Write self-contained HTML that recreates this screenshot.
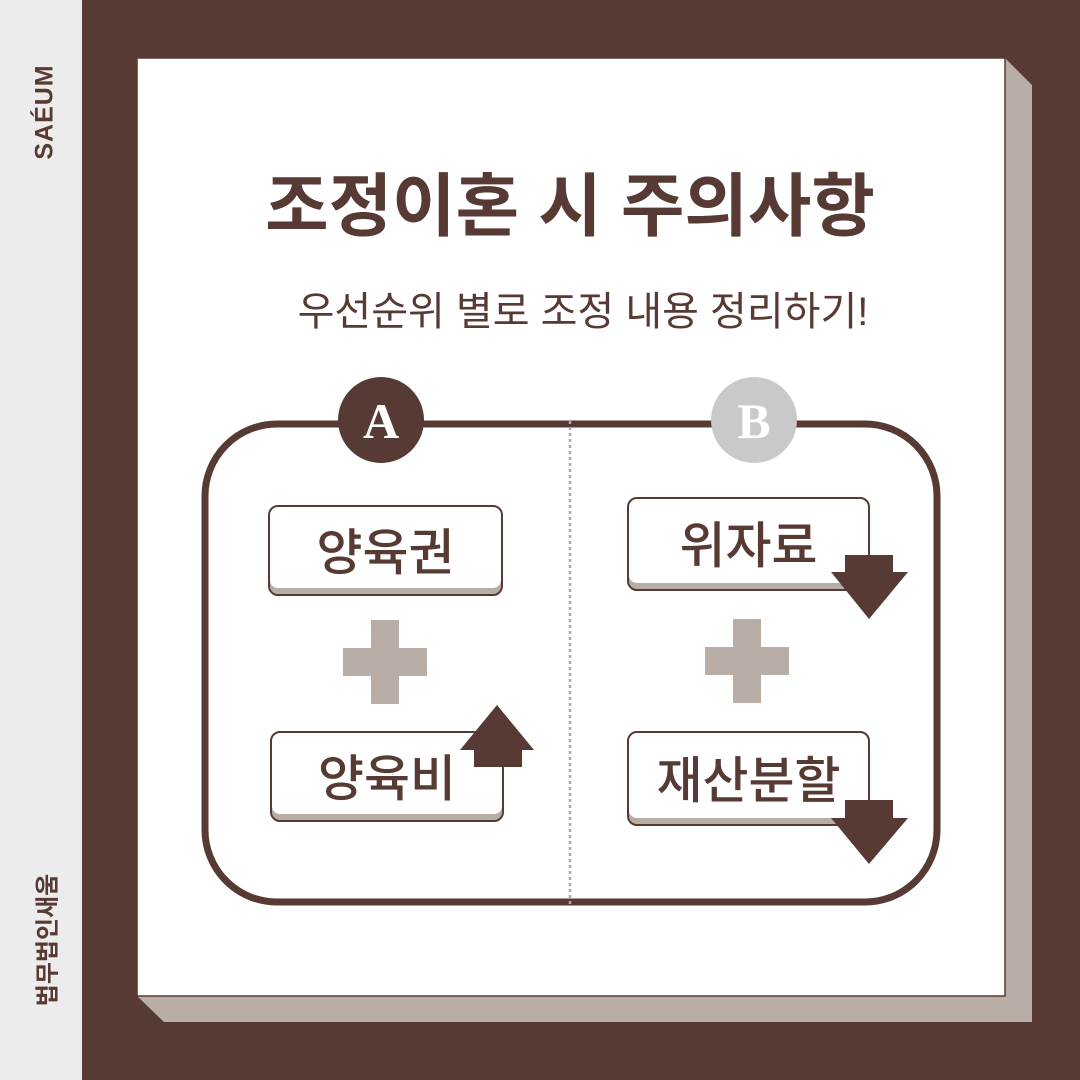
<!DOCTYPE html>
<html><head><meta charset="utf-8"><style>
body{margin:0;width:1080px;height:1080px;overflow:hidden;background:#573a33;font-family:"Liberation Sans","Noto Sans CJK KR",sans-serif;}
.abs{position:absolute}
.box{position:absolute;background:#fff;border:2px solid #573a33;border-radius:10px;box-shadow:inset 0 -6px 0 #b8aea6;color:#573a33;font-size:50px;font-weight:500;display:flex;align-items:center;justify-content:center;box-sizing:border-box;padding-bottom:4px}
</style></head><body>
<div class="abs" style="left:0;top:0;width:82px;height:1080px;background:#ececec"></div>
<div class="abs" style="left:45px;top:112px;transform:translate(-50%,-50%) rotate(-90deg);font-weight:bold;font-size:25px;color:#573a33;letter-spacing:1px">SAÉUM</div>
<div class="abs" style="left:45px;top:940px;transform:translate(-50%,-50%) rotate(-90deg);font-weight:bold;font-size:24px;color:#573a33;white-space:nowrap">법무법인새움</div>
<svg class="abs" style="left:0;top:0" width="1080" height="1080">
<polygon points="1005,58 1032,85 1032,1022 164,1022 137,996 1005,996" fill="#b8aea6"/>
<rect x="137" y="58" width="868" height="938" fill="#fff" stroke="#573a33" stroke-width="1.5"/>
<rect x="205" y="424" width="732" height="478" rx="72" fill="none" stroke="#573a33" stroke-width="7"/>
<line x1="570" y1="421" x2="570" y2="905" stroke="#aaa" stroke-width="2.5" stroke-dasharray="3,3"/>
<circle cx="381" cy="420" r="43" fill="#573a33"/>
<circle cx="754" cy="420" r="43" fill="#c9c9c9"/>
<text x="381" y="438" text-anchor="middle" font-family="Liberation Serif" font-weight="bold" font-size="50" fill="#fff">A</text>
<text x="754" y="438" text-anchor="middle" font-family="Liberation Serif" font-weight="bold" font-size="50" fill="#fff">B</text>
<rect x="343" y="648" width="84" height="28" fill="#b8aea6"/><rect x="371" y="620" width="28" height="84" fill="#b8aea6"/>
<rect x="705" y="647" width="84" height="28" fill="#b8aea6"/><rect x="733" y="619" width="28" height="84" fill="#b8aea6"/>
</svg>
<div class="abs" style="left:0;width:1140px;top:150px;text-align:center;font-size:69px;font-weight:bold;color:#573a33;white-space:nowrap">조정이혼 시 주의사항</div>
<div class="abs" style="left:0;width:1166px;top:279px;text-align:center;font-size:40px;color:#573a33;white-space:nowrap">우선순위 별로 조정 내용 정리하기!</div>
<div class="box" style="left:268px;top:505px;width:235px;height:91px">양육권</div>
<div class="box" style="left:270px;top:731px;width:234px;height:91px">양육비</div>
<div class="box" style="left:627px;top:497px;width:243px;height:94px">위자료</div>
<div class="box" style="left:627px;top:731px;width:243px;height:95px">재산분할</div>
<svg class="abs" style="left:0;top:0" width="1080" height="1080">
<polygon points="497,705 534,750 522,750 522,767 474,767 474,750 460,750" fill="#573a33"/>
<polygon points="845,555 893,555 893,572 908,572 869,619 831,572 845,572" fill="#573a33"/>
<polygon points="845,800 893,800 893,818 908,818 869,864 831,818 845,818" fill="#573a33"/>
</svg>
</body></html>
